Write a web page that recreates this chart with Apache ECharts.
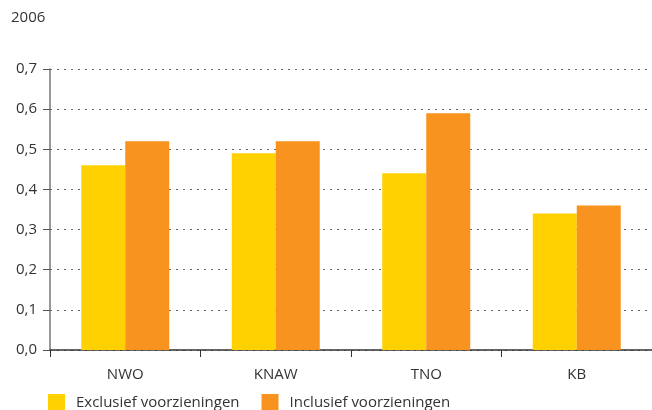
<!DOCTYPE html>
<html><head><meta charset="utf-8">
<script src="https://cdn.jsdelivr.net/npm/echarts@6/dist/echarts.min.js"></script>
<style>html,body{margin:0;padding:0;background:#fff}#c{width:652px;height:410px}</style>
</head><body><div id="c"></div>
<script>
const categories = ['NWO', 'KNAW', 'TNO', 'KB'];
const exclusief = [0.46, 0.49, 0.44, 0.34];
const inclusief = [0.52, 0.52, 0.59, 0.36];
const seriesNames = ['Exclusief voorzieningen', 'Inclusief voorzieningen'];
const yTicks = [0, 0.1, 0.2, 0.3, 0.4, 0.5, 0.6, 0.7];

const font = '"Open Sans", "Noto Sans", sans-serif';
const chart = echarts.init(document.getElementById('c'), null, {renderer: 'canvas'});
chart.setOption({
  animation: false,
  textStyle: {fontFamily: font},
  title: {text: '2006', left: 11, top: 10, padding: 0, textStyle: {fontSize: 15, fontWeight: 'normal', color: '#333', fontFamily: font}},
  grid: {left: 50, top: 69, width: 606, bottom: 60, containLabel: false},
  legend: {
    left: 48, top: 394, padding: 0, itemWidth: 17, itemHeight: 17, itemGap: 22,
    icon: 'rect',
    textStyle: {fontSize: 15, color: '#333', fontFamily: font, padding: [2, 0, 0, 6]},
    data: seriesNames
  },
  xAxis: {
    type: 'category', data: categories,
    axisLine: {lineStyle: {color: '#333', width: 1.5}},
    axisTick: {show: true, length: 7, lineStyle: {color: '#333'}},
    axisLabel: {fontSize: 15, color: '#333', margin: 17, fontFamily: font}
  },
  yAxis: {
    type: 'value', min: 0, max: 0.7, interval: 0.1,
    axisLine: {show: true, lineStyle: {color: '#777', width: 1.5}},
    axisTick: {show: true, length: 7, lineStyle: {color: '#555'}},
    axisLabel: {fontSize: 15, color: '#333', margin: 13, fontFamily: font,
      formatter: v => yTicks.includes(Math.round(v*10)/10) ? v.toFixed(1).replace('.', ',') : ''},
    splitLine: {show: true, lineStyle: {color: '#666', type: [2, 5], width: 1}}
  },
  series: [
    {name: seriesNames[0], type: 'bar', data: exclusief, barWidth: 44, barGap: '0%', itemStyle: {color: '#FFD100'}},
    {name: seriesNames[1], type: 'bar', data: inclusief, barWidth: 44, barGap: '0%', itemStyle: {color: '#F7931E'}}
  ]
});
</script></body></html>
